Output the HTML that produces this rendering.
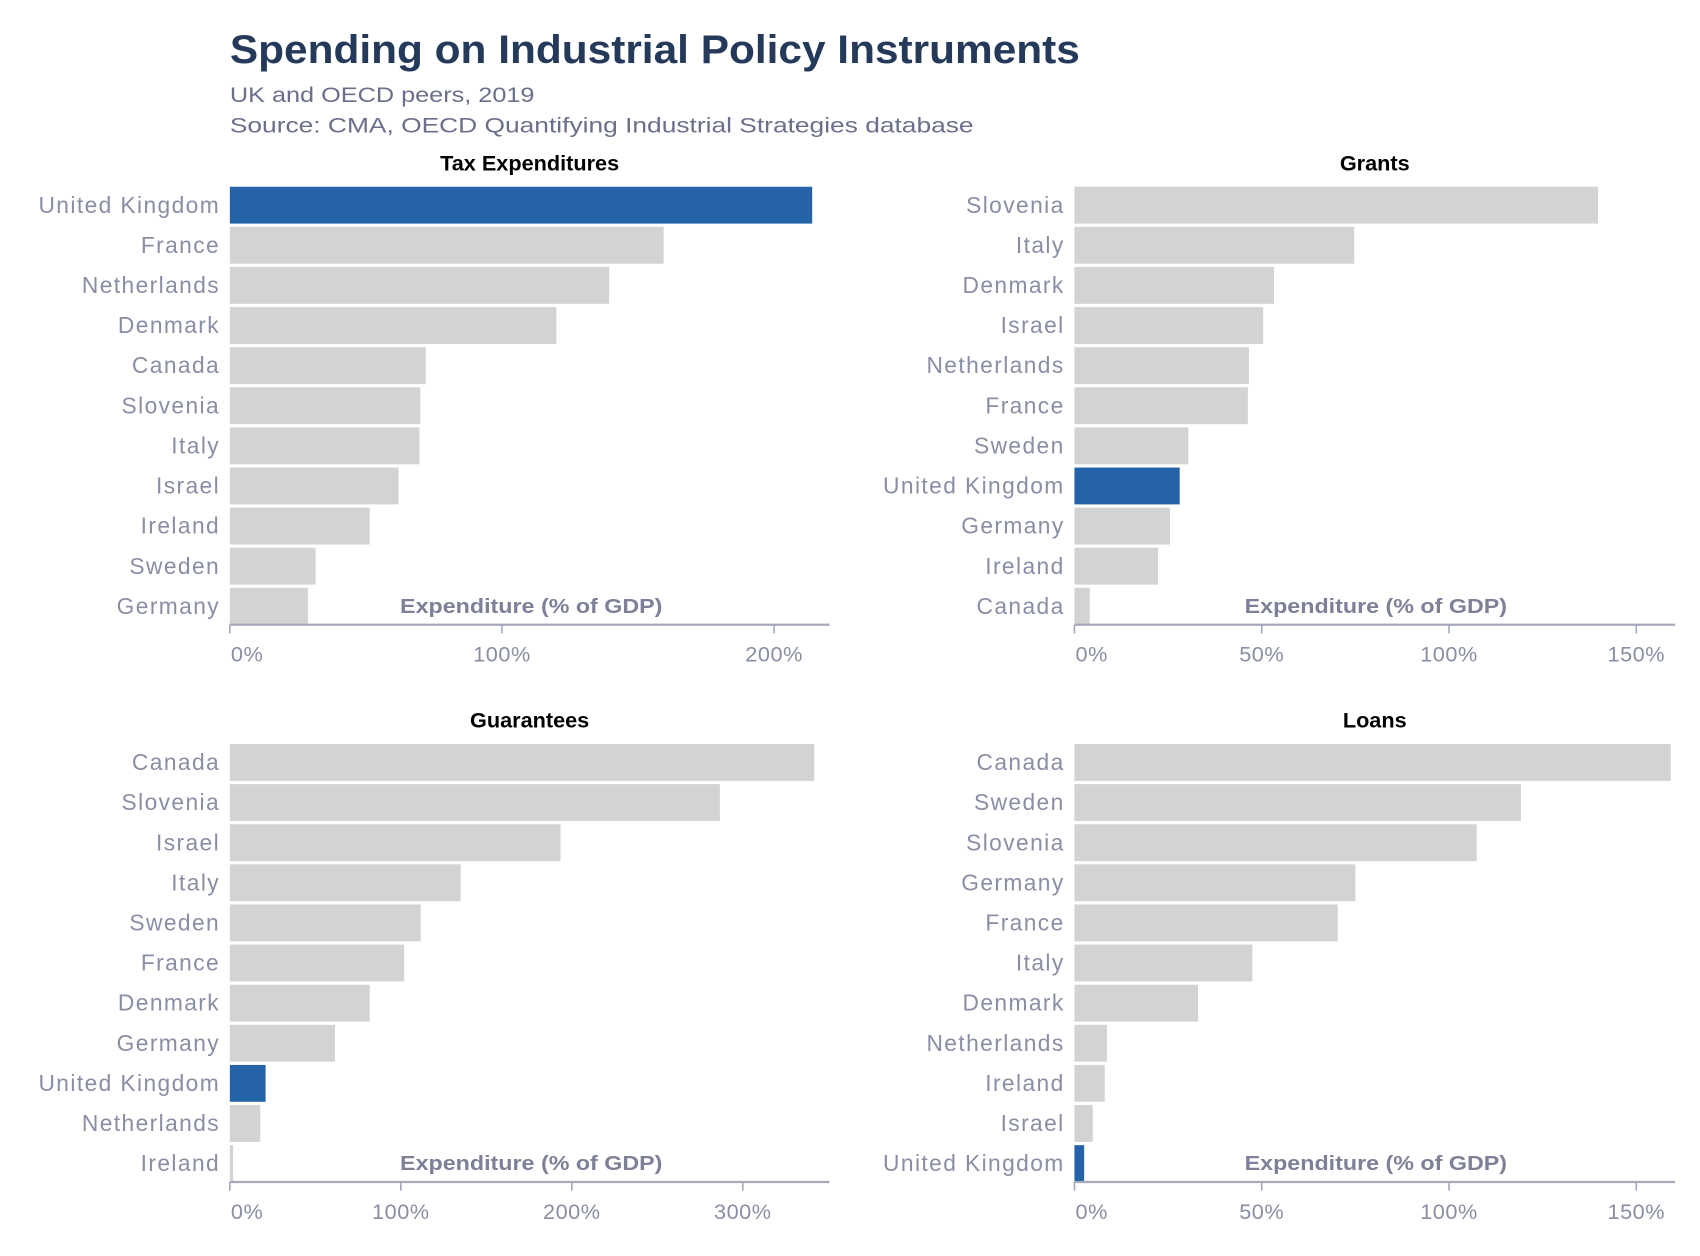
<!DOCTYPE html>
<html><head><meta charset="utf-8"><style>
html,body{margin:0;padding:0;background:#fff;}
svg{display:block;font-family:"Liberation Sans",sans-serif;}
</style></head><body>
<svg id="chart" width="1700" height="1256" viewBox="0 0 1568 1158" xmlns="http://www.w3.org/2000/svg">
<text x="212" y="58" font-size="37" font-weight="bold" fill="#253a5a" textLength="784" lengthAdjust="spacingAndGlyphs">Spending on Industrial Policy Instruments</text>
<text x="212" y="94" font-size="20" fill="#6b6f8a" textLength="281" lengthAdjust="spacingAndGlyphs">UK and OECD peers, 2019</text>
<text x="212" y="122" font-size="20" fill="#6b6f8a" textLength="686" lengthAdjust="spacingAndGlyphs">Source: CMA, OECD Quantifying Industrial Strategies database</text>
</svg>
<script>
const taxCountries=["United Kingdom","France","Netherlands","Denmark","Canada","Slovenia","Italy","Israel","Ireland","Sweden","Germany"];
const taxValues=[214,159.4,139.4,120,72,70,69.7,62,51.4,31.5,28.7];
const taxTicks=[0,100,200];
const grantCountries=["Slovenia","Italy","Denmark","Israel","Netherlands","France","Sweden","United Kingdom","Germany","Ireland","Canada"];
const grantValues=[139.8,74.7,53.3,50.4,46.6,46.3,30.4,28.1,25.5,22.3,4.1];
const grantTicks=[0,50,100,150];
const guarCountries=["Canada","Slovenia","Israel","Italy","Sweden","France","Denmark","Germany","United Kingdom","Netherlands","Ireland"];
const guarValues=[341.8,286.6,193.4,135,111.6,102,81.8,61.5,20.9,17.8,1.9];
const guarTicks=[0,100,200,300];
const loanCountries=["Canada","Sweden","Slovenia","Germany","France","Italy","Denmark","Netherlands","Ireland","Israel","United Kingdom"];
const loanValues=[159.2,119.2,107.4,75,70.3,47.5,33,8.7,8.1,4.9,2.6];
const loanTicks=[0,50,100,150];

const NS="http://www.w3.org/2000/svg";
const svg=document.getElementById('chart');
function mk(tag,attrs,parent,text){const e=document.createElementNS(NS,tag);for(const k in attrs)e.setAttribute(k,attrs[k]);if(text!==undefined)e.textContent=text;(parent||svg).appendChild(e);return e;}

function panel(key,title,countries,values,ticks,x0,xEnd,pxPer100,top){
  const g=mk('g',{});
  
  
  const xs=v=>x0+v*pxPer100/100;
  const cx=(x0+xEnd)/2;
  const t=mk('text',{x:cx,y:top+7,'font-size':20,'font-weight':'bold','text-anchor':'middle',fill:'#000'},g,title);
  
  
  const axisY=top+426;
  countries.forEach((c,i)=>{
    const yTop=top+22+i*37;
    const r=mk('rect',{x:x0,y:yTop,width:Math.max(0,xs(values[i])-x0),height:34,fill:c==="United Kingdom"?'#2563a8':'#d3d3d3'},g);
    
    
    const l=mk('text',{x:x0-9,y:yTop+24,'font-size':21,'letter-spacing':1.3,'text-anchor':'end',fill:'#8a8ea4'},g,c);
    
    
  });
  const ax=mk('line',{x1:x0,x2:xEnd,y1:axisY,y2:axisY,stroke:'#a6a9bb','stroke-width':2},g);
  
  
  ticks.forEach(tv=>{
    const x=xs(tv);
    const tk=mk('line',{x1:x,x2:x,y1:axisY,y2:axisY+8,stroke:'#a6a9bb','stroke-width':1.5},g);
    
    
    const tl=mk('text',{x:tv===0?x+1:x,y:axisY+34,'font-size':20,'letter-spacing':0.5,'text-anchor':tv===0?'start':'middle',fill:'#8a8ea4'},g,tv+'%');
    
    
  });
  const at=mk('text',{x:x0+157,y:axisY-11,'font-size':19,'font-weight':'bold',fill:'#7d8097',textLength:242,lengthAdjust:'spacingAndGlyphs'},g,'Expenditure (% of GDP)');
  
  
}
panel('tax','Tax Expenditures',taxCountries,taxValues,taxTicks,212,765,251,150);
panel('grants','Grants',grantCountries,grantValues,grantTicks,991,1545,345.5,150);
panel('guarantees','Guarantees',guarCountries,guarValues,guarTicks,212,765,157.7,664);
panel('loans','Loans',loanCountries,loanValues,loanTicks,991,1545,345.5,664);
</script>
</body></html>
